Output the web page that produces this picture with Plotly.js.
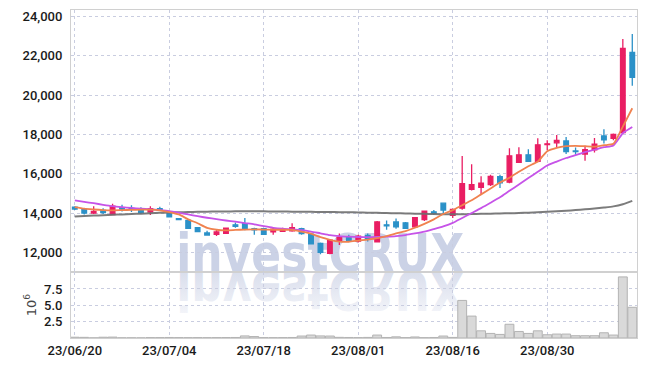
<!DOCTYPE html>
<html>
<head>
<meta charset="utf-8">
<script src="https://cdn.plot.ly/plotly-3.0.1.min.js"></script>
<style>html,body{margin:0;padding:0;background:#fff;}#chart{width:645px;height:366px;}</style>
</head>
<body>
<div id="chart"></div>
<script>
const dates = ['23/06/20','23/06/21','23/06/22','23/06/23','23/06/26','23/06/27','23/06/28','23/06/29','23/06/30','23/07/03',
'23/07/04','23/07/05','23/07/06','23/07/07','23/07/10','23/07/11','23/07/12','23/07/13','23/07/14','23/07/17',
'23/07/18','23/07/19','23/07/20','23/07/21','23/07/24','23/07/25','23/07/26','23/07/27','23/07/28','23/07/31',
'23/08/01','23/08/02','23/08/03','23/08/04','23/08/07','23/08/08','23/08/09','23/08/10','23/08/11','23/08/14',
'23/08/16','23/08/17','23/08/18','23/08/21','23/08/22','23/08/23','23/08/24','23/08/25','23/08/28','23/08/29',
'23/08/30','23/08/31','23/09/01','23/09/04','23/09/05','23/09/06','23/09/07','23/09/08','23/09/11','23/09/12'];

const openP = [14300,14200,14000,14130,13920,14270,14230,14170,14050,14220,14050,13720,13630,13260,12990,12920,12970,13400,13460,13200,
13210,13040,13070,13090,13210,12920,12450,11950,12570,12790,12570,12860,12540,13400,13550,13500,13300,13670,14060,14500,
13880,14250,15210,15310,15450,15850,15570,16580,16960,16630,17480,17570,17670,17160,17000,17220,17920,17800,18090,22170];
const highP = [14350,14250,14350,14250,14470,14420,14400,14300,14350,14320,14080,13740,13650,13280,13100,13160,13250,13520,13750,13250,
13230,13280,13250,13480,13250,12950,12500,12680,12960,12900,12900,12960,13600,13620,13720,13550,13800,14130,14150,14520,
14230,16900,16480,15870,15950,15950,17300,17350,17250,17810,17700,17970,17870,17330,17420,17820,18260,18050,22860,23110];
const lowP = [14150,13930,13950,13950,13900,14080,14050,13950,13900,14100,13780,13640,13200,13030,12840,12830,12950,13250,13130,12900,
12900,12900,13030,13050,12900,12400,11900,11900,12370,12550,12500,12550,12500,13150,13200,13200,13250,13600,13900,13900,
13750,14170,15150,14940,15380,15280,15520,16550,16600,16580,17200,17330,17000,16970,16660,17080,17540,17700,18050,20480];
const closeP = [14200,14000,14080,14020,14350,14200,14200,14020,14220,14150,13800,13660,13220,13050,12880,13040,13230,13320,13180,13150,
12920,13180,13160,13260,12960,12430,12000,12620,12760,12580,12820,12670,13550,13350,13300,13220,13770,14090,13980,14150,
14180,15500,15450,15520,15870,15530,16910,16960,16630,17470,17520,17700,17130,17120,17220,17500,17720,18000,22380,20900];

const ma5 = [14300,14220,14180,14150,14140,14150,14160,14170,14170,14140,14050,13930,13680,13480,13250,13150,13120,13140,13160,13170,
13160,13150,13150,13140,13050,12950,12770,12640,12550,12540,12600,12650,12720,12830,12960,13080,13250,13450,13680,13950,
14150,14400,14650,14950,15250,15550,15800,16100,16380,16620,17150,17320,17400,17420,17400,17380,17450,17520,18400,19330];
const ma20 = [14640,14570,14500,14420,14350,14300,14260,14220,14190,14150,14100,14020,13930,13840,13760,13690,13620,13560,13490,13420,
13330,13250,13200,13170,13130,13060,12970,12880,12830,12800,12780,12770,12780,12800,12830,12880,12960,13050,13180,13320,
13500,13750,14000,14250,14520,14800,15130,15450,15780,16100,16420,16620,16800,16950,17100,17220,17350,17440,18060,18380];
const ma60 = [13830,13850,13870,13890,13910,13930,13950,13970,13990,14010,14030,14040,14050,14060,14070,14075,14080,14085,14085,14085,
14085,14080,14075,14070,14065,14060,14055,14050,14045,14040,14030,14020,14010,14000,13990,13980,13970,13960,13950,13940,
13940,13940,13950,13960,13970,13980,13990,14000,14020,14040,14060,14090,14120,14150,14190,14230,14280,14340,14450,14620];

const volume = [120000,100000,20000,120000,140000,30000,30000,20000,60000,60000,80000,60000,50000,60000,50000,60000,70000,80000,320000,220000,
60000,50000,60000,80000,300000,450000,320000,300000,100000,80000,60000,90000,450000,80000,180000,60000,160000,50000,80000,300000,
90000,5750000,3350000,1100000,700000,550000,2100000,1000000,700000,1100000,500000,600000,600000,350000,350000,350000,800000,450000,9350000,4700000];

const priceTicks = [12000,14000,16000,18000,20000,22000,24000];
const volTicks = [2.5,5.0,7.5];
const xTickDates = ['23/06/20','23/07/04','23/07/18','23/08/01','23/08/16','23/08/30'];
const watermarkText = 'investCRUX';

const UP = '#e91e63', DOWN = '#2b91c8';
const tickFont = {family: 'Roboto, "DejaVu Sans Condensed", sans-serif', size: 13, color: '#1a1a1a', weight: 500};
const gridC = '#c9cde0';

const candle = {
  type: 'candlestick', x: dates, open: openP, high: highP, low: lowP, close: closeP,
  xaxis: 'x', yaxis: 'y',
  increasing: {line: {color: UP, width: 1.3}, fillcolor: UP},
  decreasing: {line: {color: DOWN, width: 1.3}, fillcolor: DOWN},
  whiskerwidth: 0, showlegend: false, hoverinfo: 'skip'
};
const lineTrace = (vals, color, w, op) => ({
  type: 'scatter', mode: 'lines', x: dates, y: vals, xaxis: 'x', yaxis: 'y',
  line: {color: color, width: w, shape: 'spline', smoothing: 0.6}, opacity: op, showlegend: false, hoverinfo: 'skip'
});
const volTrace = {
  type: 'bar', x: dates, y: volume.map(v => v / 1e6), xaxis: 'x2', yaxis: 'y2',
  marker: {color: '#d9d9d9', line: {color: '#b3b3b3', width: 1}}, showlegend: false, hoverinfo: 'skip'
};

const wmSvg = '<svg xmlns="http://www.w3.org/2000/svg" width="288" height="84" viewBox="0 0 288 84">' +
  '<defs><linearGradient id="g" x1="0" y1="0" x2="0" y2="1">' +
  '<stop offset="0" stop-color="#cdd3e6" stop-opacity="0.15"/><stop offset="1" stop-color="#cdd3e6" stop-opacity="0.9"/></linearGradient></defs>' +
  '<text x="0" y="42" font-family="DejaVu Sans" font-weight="bold" font-size="53" fill="#cbd2e6" textLength="288" lengthAdjust="spacingAndGlyphs">' + watermarkText + '</text>' +
  '<g transform="translate(0,84) scale(1,-1)"><text x="0" y="42" font-family="DejaVu Sans" font-weight="bold" font-size="53" fill="url(#g)" textLength="288" lengthAdjust="spacingAndGlyphs">' + watermarkText + '</text></g>' +
  '</svg>';
const wmSrc = 'data:image/svg+xml;charset=utf-8,' + encodeURIComponent(wmSvg);

const split = 0.2012;
const layout = {
  width: 645, height: 366,
  margin: {l: 71, r: 8, t: 10, b: 28},
  paper_bgcolor: '#fff', plot_bgcolor: '#fff',
  showlegend: false,
  bargap: 0.06,
  xaxis: {
    type: 'category', domain: [0, 1], anchor: 'y', matches: 'x2',
    range: [-0.4, 59.5], rangeslider: {visible: false},
    tickvals: xTickDates, showticklabels: false, ticks: '',
    showgrid: true, gridcolor: gridC, griddash: 'dot', gridwidth: 1,
    showline: true, linecolor: '#d0d0d0', linewidth: 1, mirror: true, zeroline: false
  },
  yaxis: {
    domain: [split, 1], anchor: 'x', range: [11000, 24330],
    tickvals: priceTicks, tickformat: ',d', tickfont: tickFont, ticks: '', ticklabelstandoff: 5,
    showgrid: true, gridcolor: gridC, griddash: 'dot', gridwidth: 1,
    showline: true, linecolor: '#d0d0d0', linewidth: 1, mirror: true, zeroline: false
  },
  xaxis2: {
    type: 'category', domain: [0, 1], anchor: 'y2',
    range: [-0.4, 59.5], rangeslider: {visible: false},
    tickvals: xTickDates, ticktext: xTickDates, tickfont: tickFont, ticks: '',
    showgrid: true, gridcolor: gridC, griddash: 'dot', gridwidth: 1,
    showline: true, linecolor: '#d0d0d0', linewidth: 1, mirror: true, zeroline: false
  },
  yaxis2: {
    domain: [0, split], anchor: 'x2', range: [0, 10.1],
    tickvals: volTicks, tickformat: '.1f', tickfont: tickFont, ticks: '', ticklabelstandoff: 5,
    title: {text: '10<sup>6</sup>', font: {family: 'DejaVu Sans, sans-serif', size: 13, color: '#444'}, standoff: 4},
    showgrid: true, gridcolor: gridC, griddash: 'dot', gridwidth: 1,
    showline: true, linecolor: '#d0d0d0', linewidth: 1, mirror: true, zeroline: false
  },
  images: [{
    source: wmSrc, xref: 'paper', yref: 'paper',
    x: 0.186, y: 0.3293, sizex: 0.5088, sizey: 0.2561,
    xanchor: 'left', yanchor: 'top', sizing: 'stretch', layer: 'below'
  }]
};

Plotly.newPlot('chart', [volTrace, lineTrace(ma60, '#6e6e6e', 2, 0.9), lineTrace(ma20, '#c653e8', 1.8, 1), lineTrace(ma5, '#f0824f', 1.8, 1), candle], layout, {staticPlot: true, displayModeBar: false});
</script>
</body>
</html>
